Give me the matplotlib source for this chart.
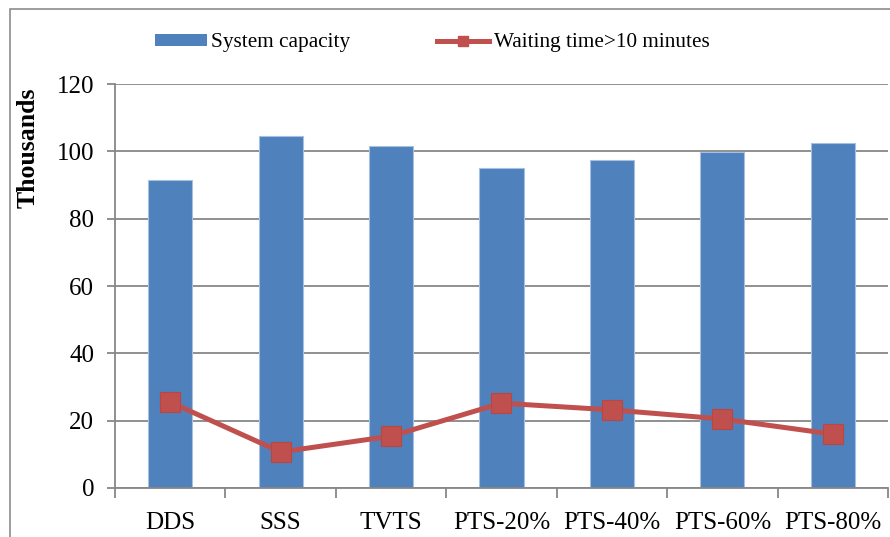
import numpy as np
import matplotlib.pyplot as plt
from matplotlib.lines import Line2D
from matplotlib.patches import Patch, Rectangle

# --- data (thousands) ---
categories = ['DDS', 'SSS', 'TVTS', 'PTS-20%', 'PTS-40%', 'PTS-60%', 'PTS-80%']
system_capacity = [91.5, 104.5, 101.6, 95.0, 97.3, 99.8, 102.5]
waiting_over_10 = [25.5, 10.7, 15.4, 25.2, 23.2, 20.5, 16.0]

BAR_COLOR = '#4F81BD'
LINE_COLOR = '#C0504D'
GRID_COLOR = '#878787'

plt.rcParams['font.family'] = ['Liberation Serif', 'DejaVu Serif']

fig = plt.figure(figsize=(8.9, 5.37), dpi=100)
ax = fig.add_axes([115 / 890, 1 - 488 / 537, 773 / 890, 404 / 537])

x = np.arange(len(categories))
ax.bar(x, system_capacity, width=0.4, color=BAR_COLOR,
       edgecolor='#A7C0E0', linewidth=0.8, zorder=2)
ax.plot(x, waiting_over_10, color=LINE_COLOR, linewidth=3.6, marker='s',
        markersize=14, markerfacecolor=LINE_COLOR, markeredgecolor='#B84744',
        markeredgewidth=0.8, zorder=3)

# --- axes styling ---
ax.set_xlim(-0.5, len(categories) - 0.5)
ax.set_ylim(0, 120)
ax.set_yticks(np.arange(0, 121, 20))
ax.yaxis.grid(True, color=GRID_COLOR, linewidth=1.3, zorder=0)
ax.set_axisbelow(True)

ax.set_xticks(x)
ax.set_xticklabels(categories)
ax.set_xticks(np.arange(-0.5, len(categories)), minor=True)
ax.tick_params(axis='x', which='major', length=0, pad=17, labelsize=18)
ax.tick_params(axis='x', which='minor', length=7, width=1.3, color=GRID_COLOR)
ax.tick_params(axis='y', length=6, width=1.3, color=GRID_COLOR, pad=9,
               labelsize=18)

for side in ['top', 'right']:
    ax.spines[side].set_visible(False)
for side in ['left', 'bottom']:
    ax.spines[side].set_color(GRID_COLOR)
    ax.spines[side].set_linewidth(1.3)

fig.text(28 / 890, 1 - 148 / 537, 'Thousands', rotation=90, ha='center',
         va='center', fontsize=18.5, fontweight='bold')

# --- legend ---
handles = [
    Patch(facecolor=BAR_COLOR, edgecolor='none', label='System capacity'),
    Line2D([0], [0], color=LINE_COLOR, linewidth=3.6, marker='s',
           markersize=7, label='Waiting time>10 minutes'),
]
fig.legend(handles=handles, loc='center', ncol=2, frameon=False,
           bbox_to_anchor=(432 / 890, 1 - 43 / 537), fontsize=15.3,
           handlelength=2.45, handleheight=0.5, handletextpad=0.2,
           columnspacing=4.1)

# --- outer chart border (cut off on right and bottom) ---
fig.add_artist(Rectangle((9.5 / 890, -0.1), 2, 1 - 8.5 / 537 + 0.1,
                         transform=fig.transFigure, fill=False,
                         edgecolor='#8C8C8C', linewidth=1.2))

fig.savefig('out.png', dpi=100)
